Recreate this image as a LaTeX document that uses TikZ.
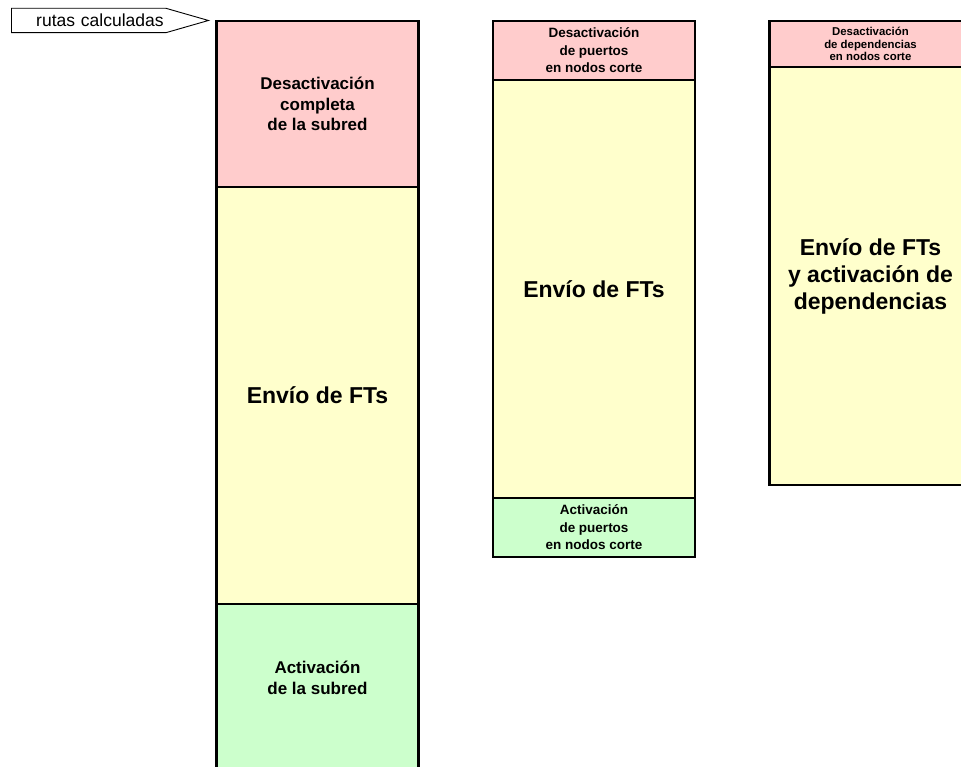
\documentclass[tikz,border=0pt]{standalone}
\usepackage{fontspec}
\setmainfont{Liberation Sans}
\usepackage{tikz}
\usetikzlibrary{shapes.symbols,positioning}
\definecolor{rosa}{RGB}{255,204,204}
\definecolor{amarillo}{RGB}{255,255,204}
\definecolor{verde}{RGB}{204,255,204}
\newcommand{\tam}[2]{\fontsize{#1}{#2}\selectfont}
\tikzstyle{fase}=[draw, line width=2.6pt, outer sep=0pt, inner sep=0pt,
  minimum width=202pt, align=center]
\tikzstyle{desact}=[fase, fill=rosa]
\tikzstyle{envio}=[fase, fill=amarillo, font=\bfseries\tam{23}{27}]
\tikzstyle{activ}=[fase, fill=verde]
\tikzstyle{grande}=[font=\bfseries\tam{17}{20.5}]
\tikzstyle{medio}=[font=\bfseries\tam{13.5}{17.5}]
\tikzstyle{chico}=[font=\bfseries\tam{11.4}{12.8}]
\tikzstyle{ruta}=[draw, line width=0.9pt, shape=signal, signal to=east,
  signal pointer angle=32, minimum width=197pt, minimum height=24.4pt,
  inner sep=0pt, text width=150pt, align=right, font=\tam{17.5}{20}]
\newcommand{\bloque}[4]{node (#1) [#2, minimum height=#3] {#4}}

\begin{document}
\begin{tikzpicture}[x=1pt,y=1pt]
  \clip (0,0) rectangle (961,767);

  % Column 1: whole subnet
\path (317.5,746) \bloque{d1}{desact, grande, anchor=north}{166pt}{Desactivación\\completa\\de la subred};
\path \bloque{e1}{envio, below=0pt of d1}{417pt}{Envío de FTs};
\path \bloque{a1}{activ, below=0pt of e1}{176pt}{};
\path (a1.north)+(0,-74) node (t1)[grande, align=center] {Activación\\de la subred};

  % Column 2: ports in cut nodes
\path (594,746) \bloque{d2}{desact, medio, anchor=north}{59pt}{Desactivación\\de puertos\\en nodos corte};
\path \bloque{e2}{envio, below=0pt of d2}{418pt}{Envío de FTs};
\path \bloque{a2}{activ, medio, below=0pt of e2}{59pt}{Activación\\de puertos\\en nodos corte};

  % Column 3: dependencies, right side runs off the page
\path (870.5,746) \bloque{d3}{desact, chico, anchor=north}{46pt}{Desactivación\\de dependencias\\en nodos corte};
\path \bloque{e3}{envio, below=0pt of d3}{418pt}{Envío de FTs\\y activación de\\dependencias};

  % Pointer to the start of the first column
\path (11,746.5) node (rc)[ruta, anchor=west] {rutas calculadas};
\end{tikzpicture}
\end{document}
